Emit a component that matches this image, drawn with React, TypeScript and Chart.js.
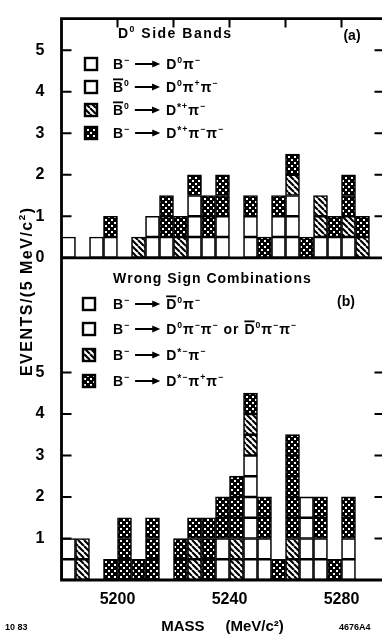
import React, { useEffect, useRef } from 'react';
import { Chart, registerables } from 'chart.js';

Chart.register(...registerables);

// ---------- data ----------
// mass bin centres (5 MeV/c^2 bins)
const massBins = [
  5182.5, 5187.5, 5192.5, 5197.5, 5202.5, 5207.5, 5212.5, 5217.5, 5222.5, 5227.5,
  5232.5, 5237.5, 5242.5, 5247.5, 5252.5, 5257.5, 5262.5, 5267.5, 5272.5, 5277.5,
  5282.5, 5287.5, 5292.5,
];
// each event is drawn as one box of this height
const EVENT_BOX = 0.5;

// (a) D0 side bands
const sideOpen = [0.5, 0, 0.5, 0.5, 0, 0, 1, 0.5, 0, 1.5, 0.5, 1, 0, 1, 0, 1, 1.5, 0, 0.5, 0.5, 0.5, 0, 0];
const sideHatched = [0, 0, 0, 0, 0, 0.5, 0, 0, 0.5, 0, 0, 0, 0, 0, 0, 0, 0.5, 0, 1, 0, 0.5, 0.5, 0];
const sideDotted = [0, 0, 0, 0.5, 0, 0, 0, 1, 0.5, 0.5, 1, 1, 0, 0.5, 0.5, 0.5, 0.5, 0.5, 0, 0.5, 1, 0.5, 0];

// (b) wrong sign combinations
const wrongOpen = [1, 0, 0, 0, 0, 0, 0, 0, 0, 0, 0, 1, 0, 3, 1, 0, 0, 2, 1, 0, 1, 0, 0];
const wrongHatched = [0, 1, 0, 0, 0, 0, 0, 0, 0, 1, 0, 0, 1, 1, 0, 0, 1, 0, 0, 0, 0, 0, 0];
const wrongDotted = [0, 0, 0, 0.5, 1.5, 0.5, 1.5, 0, 1, 0.5, 1.5, 1, 1.5, 0.5, 1, 0.5, 2.5, 0, 1, 0.5, 1, 0, 0];

const sideLegend = ['B⁻ → D⁰π⁻', 'B\u0304⁰ → D⁰π⁺π⁻', 'B\u0304⁰ → D*⁺π⁻', 'B⁻ → D*⁺π⁻π⁻'];
const wrongLegend = ['B⁻ → D\u0304⁰π⁻', 'B⁻ → D⁰π⁻π⁻ or D\u0304⁰π⁻π⁻', 'B⁻ → D*⁻π⁻', 'B⁻ → D*⁻π⁺π⁻'];
const legendStyles = ['open', 'open', 'hatched', 'dotted'];

const sideTickLabels = [0, 1, 2, 3, 4, 5];
const wrongTickLabels = [1, 2, 3, 4, 5];
const xTickLabels = [5200, 5240, 5280];
const topTickValues = [5200, 5220, 5240, 5260, 5280];

const X_MIN = 5180;
const X_MAX = 5295;
const Y_MAX = 13.52;
const SIDE_BASE = 7.76;

const FONT = '"Liberation Sans", Arial, sans-serif';

const SUP: Record<string, string> = {
  '⁰': '0', '¹': '1', '²': '2', '⁺': '+', '⁻': '−', '*': '*',
};

function richText(ctx: CanvasRenderingContext2D, text: string, x: number, yMid: number,
  size: number, spacing: number, draw: boolean): number {
  const chars = Array.from(text);
  let cx = x;
  const base = yMid + size * 0.36;
  ctx.textAlign = 'left';
  ctx.textBaseline = 'alphabetic';
  for (let i = 0; i < chars.length; i++) {
    const ch = chars[i];
    if (ch === '\u0304') continue;
    if (ch === '→') {
      const len = size * 1.8;
      if (draw) {
        ctx.save();
        ctx.strokeStyle = '#000';
        ctx.lineWidth = 2;
        ctx.beginPath();
        ctx.moveTo(cx, yMid);
        ctx.lineTo(cx + len - 6, yMid);
        ctx.stroke();
        ctx.beginPath();
        ctx.moveTo(cx + len - 8, yMid - 3.5);
        ctx.lineTo(cx + len, yMid);
        ctx.lineTo(cx + len - 8, yMid + 3.5);
        ctx.closePath();
        ctx.fill();
        ctx.restore();
      }
      cx += len + spacing;
      continue;
    }
    const sup = SUP[ch];
    const isSup = sup !== undefined;
    const s = isSup ? size * (ch === '*' ? 0.75 : 0.62) : size;
    ctx.font = `bold ${s}px ${FONT}`;
    const glyph = isSup ? sup : ch;
    const w = ctx.measureText(glyph).width;
    if (draw) {
      ctx.fillText(glyph, cx, isSup ? base - size * (ch === '*' ? 0.3 : 0.42) : base);
      if (chars[i + 1] === '\u0304') {
        ctx.fillRect(cx, base - size * 0.72 - 3.5, w, 1.8);
      }
    }
    cx += w + spacing;
  }
  return cx - x - spacing;
}

function makePattern(kind: string): CanvasPattern | string {
  const c = document.createElement('canvas');
  c.width = 6;
  c.height = 6;
  const g = c.getContext('2d');
  if (!g) return '#888';
  if (kind === 'hatched') {
    g.fillStyle = '#fff';
    g.fillRect(0, 0, 6, 6);
    g.strokeStyle = '#000';
    g.lineWidth = 2.1;
    g.beginPath();
    for (const o of [-6, 0, 6]) {
      g.moveTo(o, 0);
      g.lineTo(o + 6, 6);
    }
    g.stroke();
  } else if (kind === 'dotted') {
    g.fillStyle = '#000';
    g.fillRect(0, 0, 6, 6);
    g.fillStyle = '#fff';
    g.fillRect(0, 0, 2, 2);
    g.fillRect(3, 3, 2, 2);
  } else {
    g.fillStyle = '#fff';
    g.fillRect(0, 0, 6, 6);
  }
  return g.createPattern(c, 'repeat') || '#888';
}

// one floating bar per event box, stacked in series order within each bin
function buildCells(series: number[][], base: number) {
  return series.map((vals, si) => {
    const pts: { x: number; y: number[] }[] = [];
    vals.forEach((v, i) => {
      let lo = base;
      for (let k = 0; k < si; k++) lo += series[k][i];
      const n = Math.round(v / EVENT_BOX);
      for (let c = 0; c < n; c++) {
        pts.push({ x: massBins[i], y: [lo + c * EVENT_BOX, lo + (c + 1) * EVENT_BOX] });
      }
    });
    return pts;
  });
}

export default function App() {
  const ref = useRef<HTMLCanvasElement>(null);

  useEffect(() => {
    const canvas = ref.current;
    if (!canvas) return;
    const fills: Record<string, CanvasPattern | string> = {
      open: '#ffffff',
      hatched: makePattern('hatched'),
      dotted: makePattern('dotted'),
    };
    const kinds = ['open', 'hatched', 'dotted'];
    const sideCells = buildCells([sideOpen, sideHatched, sideDotted], SIDE_BASE);
    const wrongCells = buildCells([wrongOpen, wrongHatched, wrongDotted], 0);

    const datasets: any[] = [];
    const addSets = (cells: any[][], tag: string) => {
      cells.forEach((pts, i) => {
        datasets.push({
          label: `${tag}-${kinds[i]}`,
          data: pts,
          backgroundColor: fills[kinds[i]],
          borderColor: '#000',
          borderWidth: 1.6,
          borderSkipped: false,
          barPercentage: 1,
          categoryPercentage: 1,
        });
      });
    };
    addSets(sideCells, 'side');
    addSets(wrongCells, 'wrong');

    const drawLegend = (ctx: CanvasRenderingContext2D, labels: string[], markerX: number,
      textX: number, rows: number[]) => {
      labels.forEach((lab, i) => {
        const yMid = rows[i];
        ctx.save();
        ctx.fillStyle = fills[legendStyles[i]] as any;
        ctx.fillRect(markerX, yMid - 6, 12, 12);
        ctx.strokeStyle = '#000';
        ctx.lineWidth = 2.4;
        ctx.strokeRect(markerX, yMid - 6, 12, 12);
        ctx.restore();
        ctx.fillStyle = '#000';
        richText(ctx, lab, textX, yMid, 14, 1, true);
      });
    };

    const decor = {
      id: 'decor',
      afterDatasetsDraw(chart: any) {
        const { ctx, chartArea } = chart;
        const { left, right, top, bottom } = chartArea;
        const x = chart.scales.x;
        const y = chart.scales.y;
        const sep = y.getPixelForValue(SIDE_BASE);
        ctx.save();
        ctx.strokeStyle = '#000';
        ctx.fillStyle = '#000';
        ctx.lineWidth = 2.8;
        ctx.beginPath();
        ctx.moveTo(left - 1.4, top);
        ctx.lineTo(right, top);
        ctx.moveTo(left, sep);
        ctx.lineTo(right, sep);
        ctx.moveTo(left, bottom);
        ctx.lineTo(right, bottom);
        ctx.moveTo(left, top - 1.4);
        ctx.lineTo(left, bottom + 1.4);
        ctx.moveTo(right, top);
        ctx.lineTo(right, bottom);
        ctx.stroke();

        // inward ticks
        ctx.lineWidth = 2;
        ctx.beginPath();
        const yTicks = [
          ...wrongTickLabels.map((v) => v),
          ...sideTickLabels.filter((v) => v > 0).map((v) => v + SIDE_BASE),
        ];
        yTicks.forEach((v) => {
          const py = y.getPixelForValue(v);
          ctx.moveTo(left, py);
          ctx.lineTo(left + 10, py);
          ctx.moveTo(right, py);
          ctx.lineTo(right - 9, py);
        });
        topTickValues.forEach((v) => {
          const px = x.getPixelForValue(v);
          ctx.moveTo(px, top);
          ctx.lineTo(px, top + 9);
        });
        ctx.stroke();

        // panel (a) texts
        richText(ctx, 'D⁰ Side Bands', 118, 33, 14, 1.5, true);
        ctx.font = `bold 14px ${FONT}`;
        ctx.textAlign = 'center';
        ctx.textBaseline = 'middle';
        ctx.fillText('(a)', 352, 36);
        drawLegend(ctx, sideLegend, 85, 113, [64, 87, 110, 133]);

        // panel (b) texts
        richText(ctx, 'Wrong Sign Combinations', 113, 278, 14, 1, true);
        ctx.font = `bold 14px ${FONT}`;
        ctx.textAlign = 'center';
        ctx.textBaseline = 'middle';
        ctx.fillText('(b)', 346, 302);
        drawLegend(ctx, wrongLegend, 83, 113, [304, 329, 355, 381]);

        // y-axis title
        const yTitle = 'EVENTS/(5 MeV/c²)';
        const tw = richText(ctx, yTitle, 0, 0, 16, 1.5, false);
        ctx.save();
        ctx.translate(26, 292);
        ctx.rotate(-Math.PI / 2);
        richText(ctx, yTitle, -tw / 2, 0, 16, 1.5, true);
        ctx.restore();

        // corner notes
        ctx.font = `bold 9px ${FONT}`;
        ctx.textAlign = 'left';
        ctx.textBaseline = 'middle';
        ctx.fillText('10 83', 5, 628);
        ctx.fillText('4676A4', 339, 628);
        ctx.restore();
      },
    };

    const chart = new Chart(canvas, {
      type: 'bar',
      data: { datasets },
      options: {
        animation: false,
        responsive: false,
        devicePixelRatio: 1,
        layout: { padding: { left: 0, top: 12, right: 16.5, bottom: 0 } },
        plugins: { legend: { display: false }, tooltip: { enabled: false } },
        scales: {
          x: {
            type: 'linear',
            min: X_MIN,
            max: X_MAX,
            offset: false,
            stacked: true,
            position: 'bottom',
            grid: { display: false, offset: false },
            border: { display: false },
            afterBuildTicks: (s: any) => {
              s.ticks = xTickLabels.map((v) => ({ value: v }));
            },
            afterFit: (s: any) => {
              s.height = 56;
            },
            ticks: {
              color: '#000',
              font: { family: FONT, size: 16, weight: 'bold' },
              padding: 2,
              maxRotation: 0,
              autoSkip: false,
              callback: (v: any) => String(v),
            },
            title: {
              display: true,
              text: 'MASS     (MeV/c²)',
              color: '#000',
              font: { family: FONT, size: 15, weight: 'bold' },
              padding: { top: 0, bottom: 0 },
            },
          },
          y: {
            type: 'linear',
            min: 0,
            max: Y_MAX,
            position: 'left',
            grid: { display: false },
            border: { display: false },
            afterBuildTicks: (s: any) => {
              s.ticks = [
                ...wrongTickLabels.map((v) => ({ value: v })),
                ...sideTickLabels.map((v) => ({ value: v + SIDE_BASE })),
              ];
            },
            afterFit: (s: any) => {
              s.width = 61.5;
            },
            ticks: {
              color: '#000',
              font: { family: FONT, size: 16, weight: 'bold' },
              padding: 9,
              autoSkip: false,
              callback: (v: any) => {
                const n = Number(v);
                return n >= SIDE_BASE - 1e-6 ? String(Math.round(n - SIDE_BASE)) : String(Math.round(n));
              },
            },
          },
        },
      },
      plugins: [decor],
    } as any);

    return () => chart.destroy();
  }, []);

  return (
    <div
      style={{
        position: 'fixed',
        left: 0,
        top: 0,
        width: 382,
        height: 636,
        overflow: 'hidden',
        background: '#fff',
      }}
    >
      <canvas ref={ref} width={400} height={636} style={{ display: 'block', width: 400, height: 636 }} />
    </div>
  );
}
